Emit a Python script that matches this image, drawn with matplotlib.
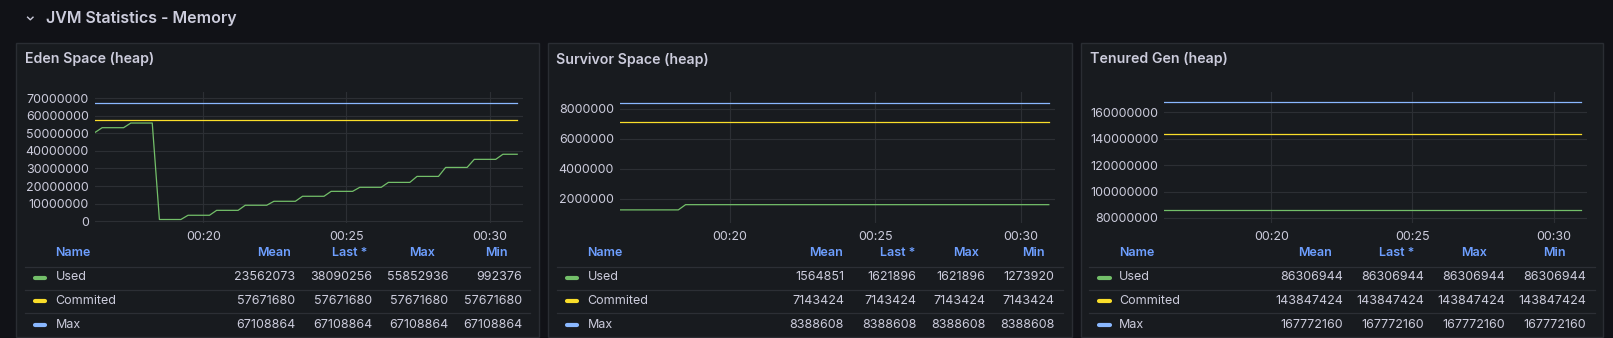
import numpy as np
import pandas as pd
import matplotlib
matplotlib.use("Agg")
import matplotlib.pyplot as plt
import matplotlib.dates as mdates
from matplotlib.patches import Rectangle
from matplotlib.lines import Line2D
from matplotlib.ticker import FuncFormatter

plt.rcParams["font.family"] = ["Inter", "DejaVu Sans"]

W, H = 1613, 338

# 15 s scrape interval, 60 samples
times = pd.date_range("2024-01-01 00:16:13", periods=60, freq="15s")
x_end = pd.Timestamp("2024-01-01 00:31:11")

series_names = ["Used", "Commited", "Max"]
series_colors = ["#73bf69", "#fade2a", "#8ab8ff"]
stat_headers = ["Mean", "Last *", "Max", "Min"]

# Eden space: young gen fills up, one GC around 00:18
eden_used = ([50500000] + [53200000] * 4 + [55852936] * 4 + [992376] * 4
             + [3400000] * 4 + [6200000] * 4 + [9100000] * 4 + [11350000] * 4
             + [14200000] * 4 + [17000000] * 4 + [19300000] * 4 + [22100000] * 4
             + [25500000] * 4 + [30600000] * 4 + [35200000] * 4 + [38090256] * 3)
eden_committed = 57671680
eden_max = 67108864
eden_stats = [[23562073, 38090256, 55852936, 992376],
              [57671680, 57671680, 57671680, 57671680],
              [67108864, 67108864, 67108864, 67108864]]

survivor_used = [1273920] * 9 + [1621896] * 51
survivor_committed = 7143424
survivor_max = 8388608
survivor_stats = [[1564851, 1621896, 1621896, 1273920],
                  [7143424, 7143424, 7143424, 7143424],
                  [8388608, 8388608, 8388608, 8388608]]

tenured_used = [86306944] * 60
tenured_committed = 143847424
tenured_max = 167772160
tenured_stats = [[86306944, 86306944, 86306944, 86306944],
                 [143847424, 143847424, 143847424, 143847424],
                 [167772160, 167772160, 167772160, 167772160]]

# pixel layout of each panel
panels = [
    dict(title="Eden Space (heap)", used=eden_used, committed=eden_committed,
         maximum=eden_max, stats=eden_stats,
         box=(16.2, 538.6), plot=(95.0, 523.4), ylim=(-1.0e6, 73.5e6),
         yticks=np.arange(0, 70e6 + 1, 10e6),
         name_x=55.5, swatch=(33.0, 46.5), sep=(25.1, 530.3),
         head_x=[291.0, 367.8, 434.9, 507.9], val_x=[295.6, 372.0, 448.3, 522.4]),
    dict(title="Survivor Space (heap)", used=survivor_used, committed=survivor_committed,
         maximum=survivor_max, stats=survivor_stats,
         box=(547.5, 1071.6), plot=(620.2, 1055.1), ylim=(0.4e6, 9.13e6),
         yticks=np.arange(2e6, 8e6 + 1, 2e6),
         name_x=587.5, swatch=(565.5, 578.9), sep=(556.9, 1062.7),
         head_x=[843.4, 915.7, 979.0, 1044.8], val_x=[844.0, 916.4, 985.2, 1054.4]),
    dict(title="Tenured Gen (heap)", used=tenured_used, committed=tenured_committed,
         maximum=tenured_max, stats=tenured_stats,
         box=(1080.5, 1603.3), plot=(1164.4, 1587.1), ylim=(76.2e6, 175.4e6),
         yticks=np.arange(80e6, 160e6 + 1, 20e6),
         name_x=1119.2, swatch=(1097.0, 1111.1), sep=(1088.9, 1594.9),
         head_x=[1331.9, 1414.4, 1487.0, 1565.3], val_x=[1342.8, 1423.9, 1505.0, 1586.1]),
]

BG = "#111217"
PANEL_BG = "#181b1f"
BORDER = "#2a2d33"
TEXT = "#ccccdc"
HEAD = "#6e9fff"
GRID = "#2c2f34"


def fx(x):
    return x / W


def fy(y):
    return 1 - y / H


fig = plt.figure(figsize=(W / 100, H / 100), dpi=100, facecolor=BG)

# collapsible row header
fig.add_artist(Line2D([fx(27.6), fx(30.3), fx(33.0)], [fy(17.2), fy(19.8), fy(17.2)],
                      color=TEXT, lw=1.0, transform=fig.transFigure))
fig.text(fx(46.5), fy(18.3), "JVM Statistics - Memory", color=TEXT, fontsize=11.5,
         fontweight="semibold", ha="left", va="center")

for p in panels:
    left, right = p["box"]
    fig.add_artist(Rectangle((fx(left), fy(337)), fx(right) - fx(left), (337 - 42.7) / H,
                             transform=fig.transFigure, facecolor=PANEL_BG,
                             edgecolor=BORDER, lw=1.0, zorder=-10))
    fig.text(fx(left + 9), fy(59.3), p["title"], color=TEXT, fontsize=10.2,
             fontweight="semibold", ha="left", va="center")

    x0, x1 = p["plot"]
    ax = fig.add_axes([fx(x0), fy(223), fx(x1) - fx(x0), (223 - 92) / H])
    ax.set_facecolor("none")
    for s in ax.spines.values():
        s.set_visible(False)

    lines = [p["used"], [p["committed"]] * len(times), [p["maximum"]] * len(times)]
    for vals, c in zip(lines, series_colors):
        ax.plot(times, vals, color=c, lw=0.9)

    ax.set_xlim(times[0], x_end)
    ax.set_ylim(*p["ylim"])
    ax.set_yticks(p["yticks"])
    ax.yaxis.set_major_formatter(FuncFormatter(lambda v, _: f"{v:.0f}"))
    ax.xaxis.set_major_locator(mdates.MinuteLocator(byminute=[20, 25, 30]))
    ax.xaxis.set_major_formatter(mdates.DateFormatter("%H:%M"))
    ax.tick_params(length=0, labelcolor=TEXT, labelsize=9)
    ax.tick_params(axis="y", pad=4.4)
    ax.tick_params(axis="x", pad=5.5)
    ax.grid(True, color=GRID, lw=0.8)
    ax.set_axisbelow(True)

    # legend table
    fig.text(fx(p["name_x"]), fy(253.5), "Name", color=HEAD, fontsize=9,
             fontweight="semibold", ha="left", va="center")
    for hx, h in zip(p["head_x"], stat_headers):
        fig.text(fx(hx), fy(253.5), h, color=HEAD, fontsize=9,
                 fontweight="semibold", ha="right", va="center")
    s0, s1 = p["sep"]
    for sy in [266.5, 290.3, 313.3]:
        fig.add_artist(Line2D([fx(s0), fx(s1)], [fy(sy)] * 2, color="#2c2f35",
                              lw=0.9, transform=fig.transFigure))
    for ry, name, c, row in zip([277.5, 301.0, 325.0], series_names, series_colors, p["stats"]):
        w0, w1 = p["swatch"]
        fig.add_artist(Line2D([fx(w0 + 1.5), fx(w1 - 1.5)], [fy(ry)] * 2, color=c,
                              lw=3, solid_capstyle="round", transform=fig.transFigure))
        fig.text(fx(p["name_x"]), fy(ry), name, color=TEXT, fontsize=9,
                 ha="left", va="center")
        for vx, v in zip(p["val_x"], row):
            fig.text(fx(vx), fy(ry), f"{v}", color=TEXT, fontsize=9,
                     ha="right", va="center")

fig.savefig("out.png", dpi=100, facecolor=BG)
